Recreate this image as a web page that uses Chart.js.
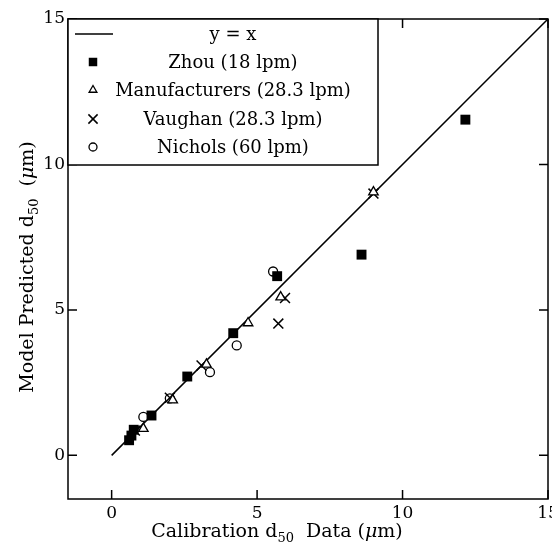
<!DOCTYPE html>
<html>
<head>
<meta charset="utf-8">
<script src="https://cdn.jsdelivr.net/npm/chart.js@4.4.1/dist/chart.umd.min.js"></script>
<style>
  html, body { margin: 0; padding: 0; background: #fff; }
  #wrap { width: 552px; height: 549px; }
</style>
</head>
<body>
<div id="wrap"><canvas id="chart" width="552" height="549"></canvas></div>
<script>
// data
const lineX = [0, 15];
const lineY = [0, 15];

const zhouX = [0.6, 0.68, 0.76, 1.37, 2.6, 4.18, 5.69, 8.59, 12.16];
const zhouY = [0.52, 0.68, 0.88, 1.37, 2.71, 4.2, 6.16, 6.9, 11.54];

const manufX = [1.09, 2.1, 3.26, 4.69, 5.81, 9.0];
const manufY = [0.92, 1.9, 3.13, 4.55, 5.44, 9.05];

const vaughanX = [0.8, 2.0, 3.09, 5.73, 5.96, 9.0];
const vaughanY = [0.85, 1.98, 3.09, 4.53, 5.41, 9.0];

const nicholsX = [1.09, 2.0, 3.38, 4.3, 5.55];
const nicholsY = [1.32, 1.96, 2.86, 3.78, 6.32];

const xTicks = [0, 5, 10, 15];
const yTicks = [0, 5, 10, 15];

const SERIF = '"DejaVu Serif", "Liberation Serif", serif';

function pts(xs, ys) {
    return xs.map((x, i) => ({ x: x, y: ys[i] }));
}

// frame with inward ticks on all four sides
const framePlugin = {
    id: 'frame',
    afterDraw(chart) {
        const ctx = chart.ctx;
        const a = chart.chartArea;
        const xs = chart.scales.x, ys = chart.scales.y;
        ctx.save();
        ctx.strokeStyle = '#000';
        ctx.lineWidth = 1.5;
        ctx.strokeRect(a.left, a.top, a.right - a.left, a.bottom - a.top);
        ctx.beginPath();
        xTicks.forEach(v => {
            const px = xs.getPixelForValue(v);
            ctx.moveTo(px, a.bottom); ctx.lineTo(px, a.bottom - 9);
            ctx.moveTo(px, a.top); ctx.lineTo(px, a.top + 9);
        });
        yTicks.forEach(v => {
            const py = ys.getPixelForValue(v);
            ctx.moveTo(a.left, py); ctx.lineTo(a.left + 9, py);
            ctx.moveTo(a.right, py); ctx.lineTo(a.right - 9, py);
        });
        ctx.stroke();
        ctx.restore();
    }
};

// draws text made of pieces: normal, subscript, italic
function drawRich(ctx, parts, cx, baseY, size) {
    const fontFor = p => (p.italic ? 'italic ' : '') + (p.sub ? Math.round(size * 0.7) : size) + 'px ' + SERIF;
    let total = 0;
    parts.forEach(p => { ctx.font = fontFor(p); total += ctx.measureText(p.t).width; });
    let x = cx - total / 2;
    parts.forEach(p => {
        ctx.font = fontFor(p);
        ctx.fillText(p.t, x, baseY + (p.sub ? size * 0.25 : 0));
        x += ctx.measureText(p.t).width;
    });
}

const titlePlugin = {
    id: 'titles',
    afterDraw(chart) {
        const ctx = chart.ctx;
        ctx.save();
        ctx.fillStyle = '#000';
        ctx.textAlign = 'left';
        ctx.textBaseline = 'alphabetic';
        drawRich(ctx, [
            { t: 'Calibration d' }, { t: '50', sub: true }, { t: '  Data (' },
            { t: 'μ', italic: true }, { t: 'm)' }
        ], 277, 537, 19);
        ctx.translate(33, 267);
        ctx.rotate(-Math.PI / 2);
        drawRich(ctx, [
            { t: 'Model Predicted d' }, { t: '50', sub: true }, { t: '  (' },
            { t: 'μ', italic: true }, { t: 'm)' }
        ], 0, 0, 19);
        ctx.restore();
    }
};

// legend box in the upper left corner of the plot
const legendPlugin = {
    id: 'boxLegend',
    afterDraw(chart) {
        const ctx = chart.ctx;
        const a = chart.chartArea;
        const left = a.left, top = a.top, right = 378, bottom = 165;
        ctx.save();
        ctx.fillStyle = '#fff';
        ctx.fillRect(left, top, right - left, bottom - top);
        ctx.strokeStyle = '#000';
        ctx.lineWidth = 1.5;
        ctx.strokeRect(left, top, right - left, bottom - top);
        const rows = [34, 62, 90, 119, 147];
        chart.data.datasets.forEach((ds, i) => {
            const y = rows[i];
            ctx.strokeStyle = '#000';
            if (ds.type === 'line') {
                ctx.lineWidth = 1.5;
                ctx.beginPath();
                ctx.moveTo(75, y); ctx.lineTo(113, y);
                ctx.stroke();
            } else {
                ctx.fillStyle = ds.backgroundColor;
                ctx.lineWidth = ds.borderWidth;
                Chart.helpers.drawPoint(ctx, {
                    pointStyle: ds.pointStyle,
                    radius: ds.legendRadius,
                    rotation: 0,
                    borderWidth: ds.borderWidth
                }, 93, y);
            }
            ctx.fillStyle = '#000';
            ctx.font = '18px ' + SERIF;
            ctx.textAlign = 'center';
            ctx.textBaseline = 'middle';
            ctx.fillText(ds.label, 233, y + 1);
        });
        ctx.restore();
    }
};

const scatterBase = { type: 'scatter', showLine: false, borderColor: '#000', order: 0 };

new Chart(document.getElementById('chart'), {
    data: {
        datasets: [
            { type: 'line', label: 'y = x', data: pts(lineX, lineY), borderColor: '#000',
              borderWidth: 1.5, pointRadius: 0, fill: false, order: 1 },
            Object.assign({}, scatterBase, { label: 'Zhou (18 lpm)', data: pts(zhouX, zhouY),
              pointStyle: 'rect', pointRadius: 7, backgroundColor: '#000', borderWidth: 0, legendRadius: 6 }),
            Object.assign({}, scatterBase, { label: 'Manufacturers (28.3 lpm)', data: pts(manufX, manufY),
              pointStyle: 'triangle', pointRadius: 5.5, backgroundColor: '#fff', borderWidth: 1.3, legendRadius: 4.5 }),
            Object.assign({}, scatterBase, { label: 'Vaughan (28.3 lpm)', data: pts(vaughanX, vaughanY),
              pointStyle: 'crossRot', pointRadius: 7, backgroundColor: '#000', borderWidth: 1.5, legendRadius: 6.5 }),
            Object.assign({}, scatterBase, { label: 'Nichols (60 lpm)', data: pts(nicholsX, nicholsY),
              pointStyle: 'circle', pointRadius: 4.5, backgroundColor: '#fff', borderWidth: 1.3, legendRadius: 4 })
        ]
    },
    options: {
        responsive: false,
        animation: false,
        events: [],
        layout: { autoPadding: false, padding: { top: 19, right: 4, left: 0, bottom: 0 } },
        plugins: { legend: { display: false }, tooltip: { enabled: false } },
        elements: { point: { hoverRadius: 0 } },
        scales: {
            x: {
                type: 'linear', min: -1.5, max: 15,
                grid: { display: false, drawTicks: false },
                border: { display: false },
                afterBuildTicks: s => { s.ticks = xTicks.map(v => ({ value: v })); },
                afterFit: s => { s.height = 50; s.paddingLeft = 0; s.paddingRight = 0; },
                ticks: { color: '#000', padding: 4, maxRotation: 0,
                         font: { family: SERIF, size: 17 } }
            },
            y: {
                type: 'linear', min: -1.5, max: 15,
                grid: { display: false, drawTicks: false },
                border: { display: false },
                afterBuildTicks: s => { s.ticks = yTicks.map(v => ({ value: v })); },
                afterFit: s => { s.width = 68; s.paddingTop = 0; s.paddingBottom = 0; },
                ticks: { color: '#000', padding: 3,
                         font: { family: SERIF, size: 17 } }
            }
        }
    },
    plugins: [framePlugin, titlePlugin, legendPlugin]
});
</script>
</body>
</html>
